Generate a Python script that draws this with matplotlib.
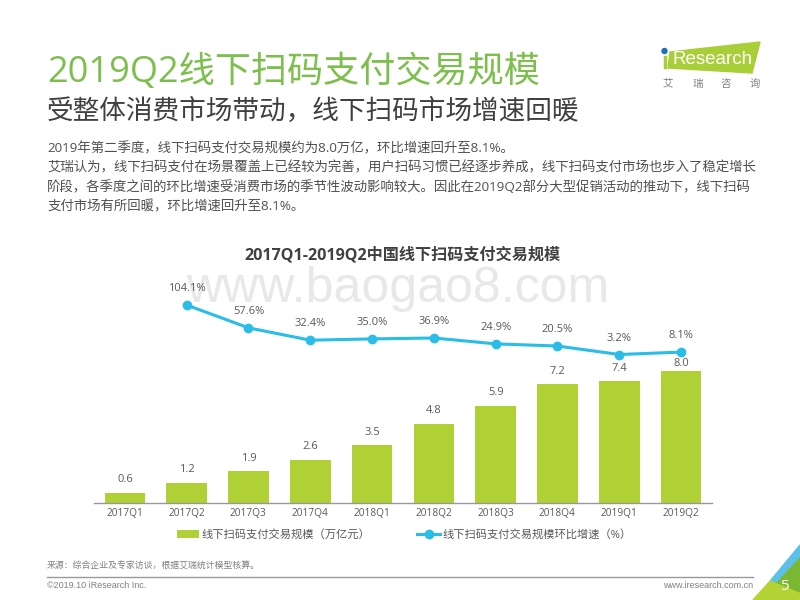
import matplotlib
matplotlib.use('Agg')
import matplotlib.pyplot as plt
import numpy as np
from matplotlib.patches import Polygon, Circle

# latin glyphs come from Open Sans, chinese falls through to Noto
plt.rcParams['font.family'] = ['Open Sans', 'Noto Sans CJK SC', 'DejaVu Sans']

quarters = ['2017Q1', '2017Q2', '2017Q3', '2017Q4', '2018Q1', '2018Q2', '2018Q3', '2018Q4', '2019Q1', '2019Q2']
scale = [0.6, 1.2, 1.9, 2.6, 3.5, 4.8, 5.9, 7.2, 7.4, 8.0]
growth = [104.1, 57.6, 32.4, 35.0, 36.9, 24.9, 20.5, 3.2, 8.1]

GREEN = '#afd136'
BLUE = '#29bde8'
GREY = '#595959'

body_lines = [
    '2019年第二季度，线下扫码支付交易规模约为8.0万亿，环比增速回升至8.1%。',
    '艾瑞认为，线下扫码支付在场景覆盖上已经较为完善，用户扫码习惯已经逐步养成，线下扫码支付市场也步入了稳定增长',
    '阶段，各季度之间的环比增速受消费市场的季节性波动影响较大。因此在2019Q2部分大型促销活动的推动下，线下扫码',
    '支付市场有所回暖，环比增速回升至8.1%。',
]

fig = plt.figure(figsize=(8, 6), dpi=100)

# page layer in pixel coordinates
page = fig.add_axes([0, 0, 1, 1])
page.set_xlim(0, 800)
page.set_ylim(600, 0)
page.axis('off')

page.text(47, 82, '2019Q2线下扫码支付交易规模', fontsize=26, color='#7dbf4d', va='baseline')
page.text(47, 112, '受整体消费市场带动，线下扫码市场增速回暖', fontsize=19.2, color='#404040', va='center')
for i, line in enumerate(body_lines):
    page.text(47, 148.5 + i * 19.5, line, fontsize=9.67, color='#505050', va='center')

# logo
page.add_patch(Polygon([[670, 52], [760, 42], [752, 73], [668, 68]], color='#a9cf38'))
page.add_patch(Circle((664.5, 51), 2.5, color='#1f6fb5'))
page.plot([664.5, 664.5], [57, 67], color='#a9cf38', lw=2.5)
page.text(673, 60, 'Research', fontsize=13.5, color='white', va='center', family='Liberation Sans')
for x, ch in zip([668, 698, 726, 755], '艾瑞咨询'):
    page.text(x, 84, ch, fontsize=7.5, color='#808080', ha='center', va='center')

# watermark
page.text(398, 302, 'www.baogao8.com', fontsize=36, color='#e8e8e8', ha='center', va='baseline',
          family='Liberation Sans', zorder=0)

page.text(402, 255, '2017Q1-2019Q2中国线下扫码支付交易规模', fontsize=11.6, fontweight='bold',
          color='#404040', ha='center', va='center')

# footer
page.text(47, 566, '来源：综合企业及专家访谈，根据艾瑞统计模型核算。', fontsize=6.4, color='#808080', va='center')
page.plot([47, 753], [576.5, 576.5], color='#999999', lw=1)
page.text(47, 586, '©2019.10 iResearch Inc.', fontsize=6.5, color='#808080', va='center', family='Liberation Sans')
page.text(753, 586, 'www.iresearch.com.cn', fontsize=6.5, color='#808080', va='center', ha='right',
          family='Liberation Sans')

# corner decoration
page.add_patch(Polygon([[753, 600], [771, 580], [776, 582], [800, 592], [800, 600]], color='#b4d334'))
page.add_patch(Polygon([[776, 582], [800, 556], [800, 592]], color='#7ab833'))
page.add_patch(Polygon([[771, 580], [800, 545], [800, 556], [776, 582]], color='#5cc0e8'))
page.text(784, 586, '5', fontsize=11, color='white', ha='center', va='center')

# bars, left/bottom edges in pixels of the reference
ax = fig.add_axes([94 / 800, (600 - 502.5) / 600, 618 / 800, 200 / 600])
ax.patch.set_alpha(0)
x = np.arange(len(quarters))
ax.bar(x, scale, width=0.66, color=GREEN, label='线下扫码支付交易规模（万亿元）')
ax.set_xlim(-0.5, 9.5)
ax.set_ylim(0, 200 / 16.4)
ax.set_xticks(x)
ax.set_xticklabels(quarters, fontsize=7.3, color=GREY)
ax.tick_params(axis='x', length=0, pad=4)
ax.set_yticks([])
for s in ['top', 'left', 'right']:
    ax.spines[s].set_visible(False)
ax.spines['bottom'].set_color('#999999')
ax.spines['bottom'].set_linewidth(1)
for xi, v in zip(x, scale):
    # last label sits tight on its bar to stay clear of the line
    offset = 3.5 if xi == x[-1] else 7.5
    ax.annotate(f'{v:.1f}', (xi, v), xytext=(0, offset), textcoords='offset points', ha='center',
                fontsize=8, color=GREY)

# growth line on its own scale
ax2 = ax.twinx()
ax2.patch.set_alpha(0)
ax2.set_ylim((354.5 - 502.5) / 0.49 + 3.2, (354.5 - 302.5) / 0.49 + 3.2)
ax2.plot(x[1:], growth, color=BLUE, lw=2.2, marker='o', ms=6, clip_on=False,
         label='线下扫码支付交易规模环比增速（%）')
ax2.set_yticks([])
for s in ax2.spines.values():
    s.set_visible(False)
for xi, v in zip(x[1:], growth):
    ax2.annotate(f'{v:.1f}%', (xi, v), xytext=(0, 10), textcoords='offset points', ha='center',
                 fontsize=8, color=GREY)

# legend
h1, l1 = ax.get_legend_handles_labels()
h2, l2 = ax2.get_legend_handles_labels()
fig.legend(h1 + h2, l1 + l2, loc='center', bbox_to_anchor=(404 / 800, (600 - 535) / 600), ncol=2, frameon=False,
           fontsize=8.1, labelcolor=GREY, handlelength=2, columnspacing=4.17, handletextpad=0.2)

fig.savefig('out.png', dpi=100)
